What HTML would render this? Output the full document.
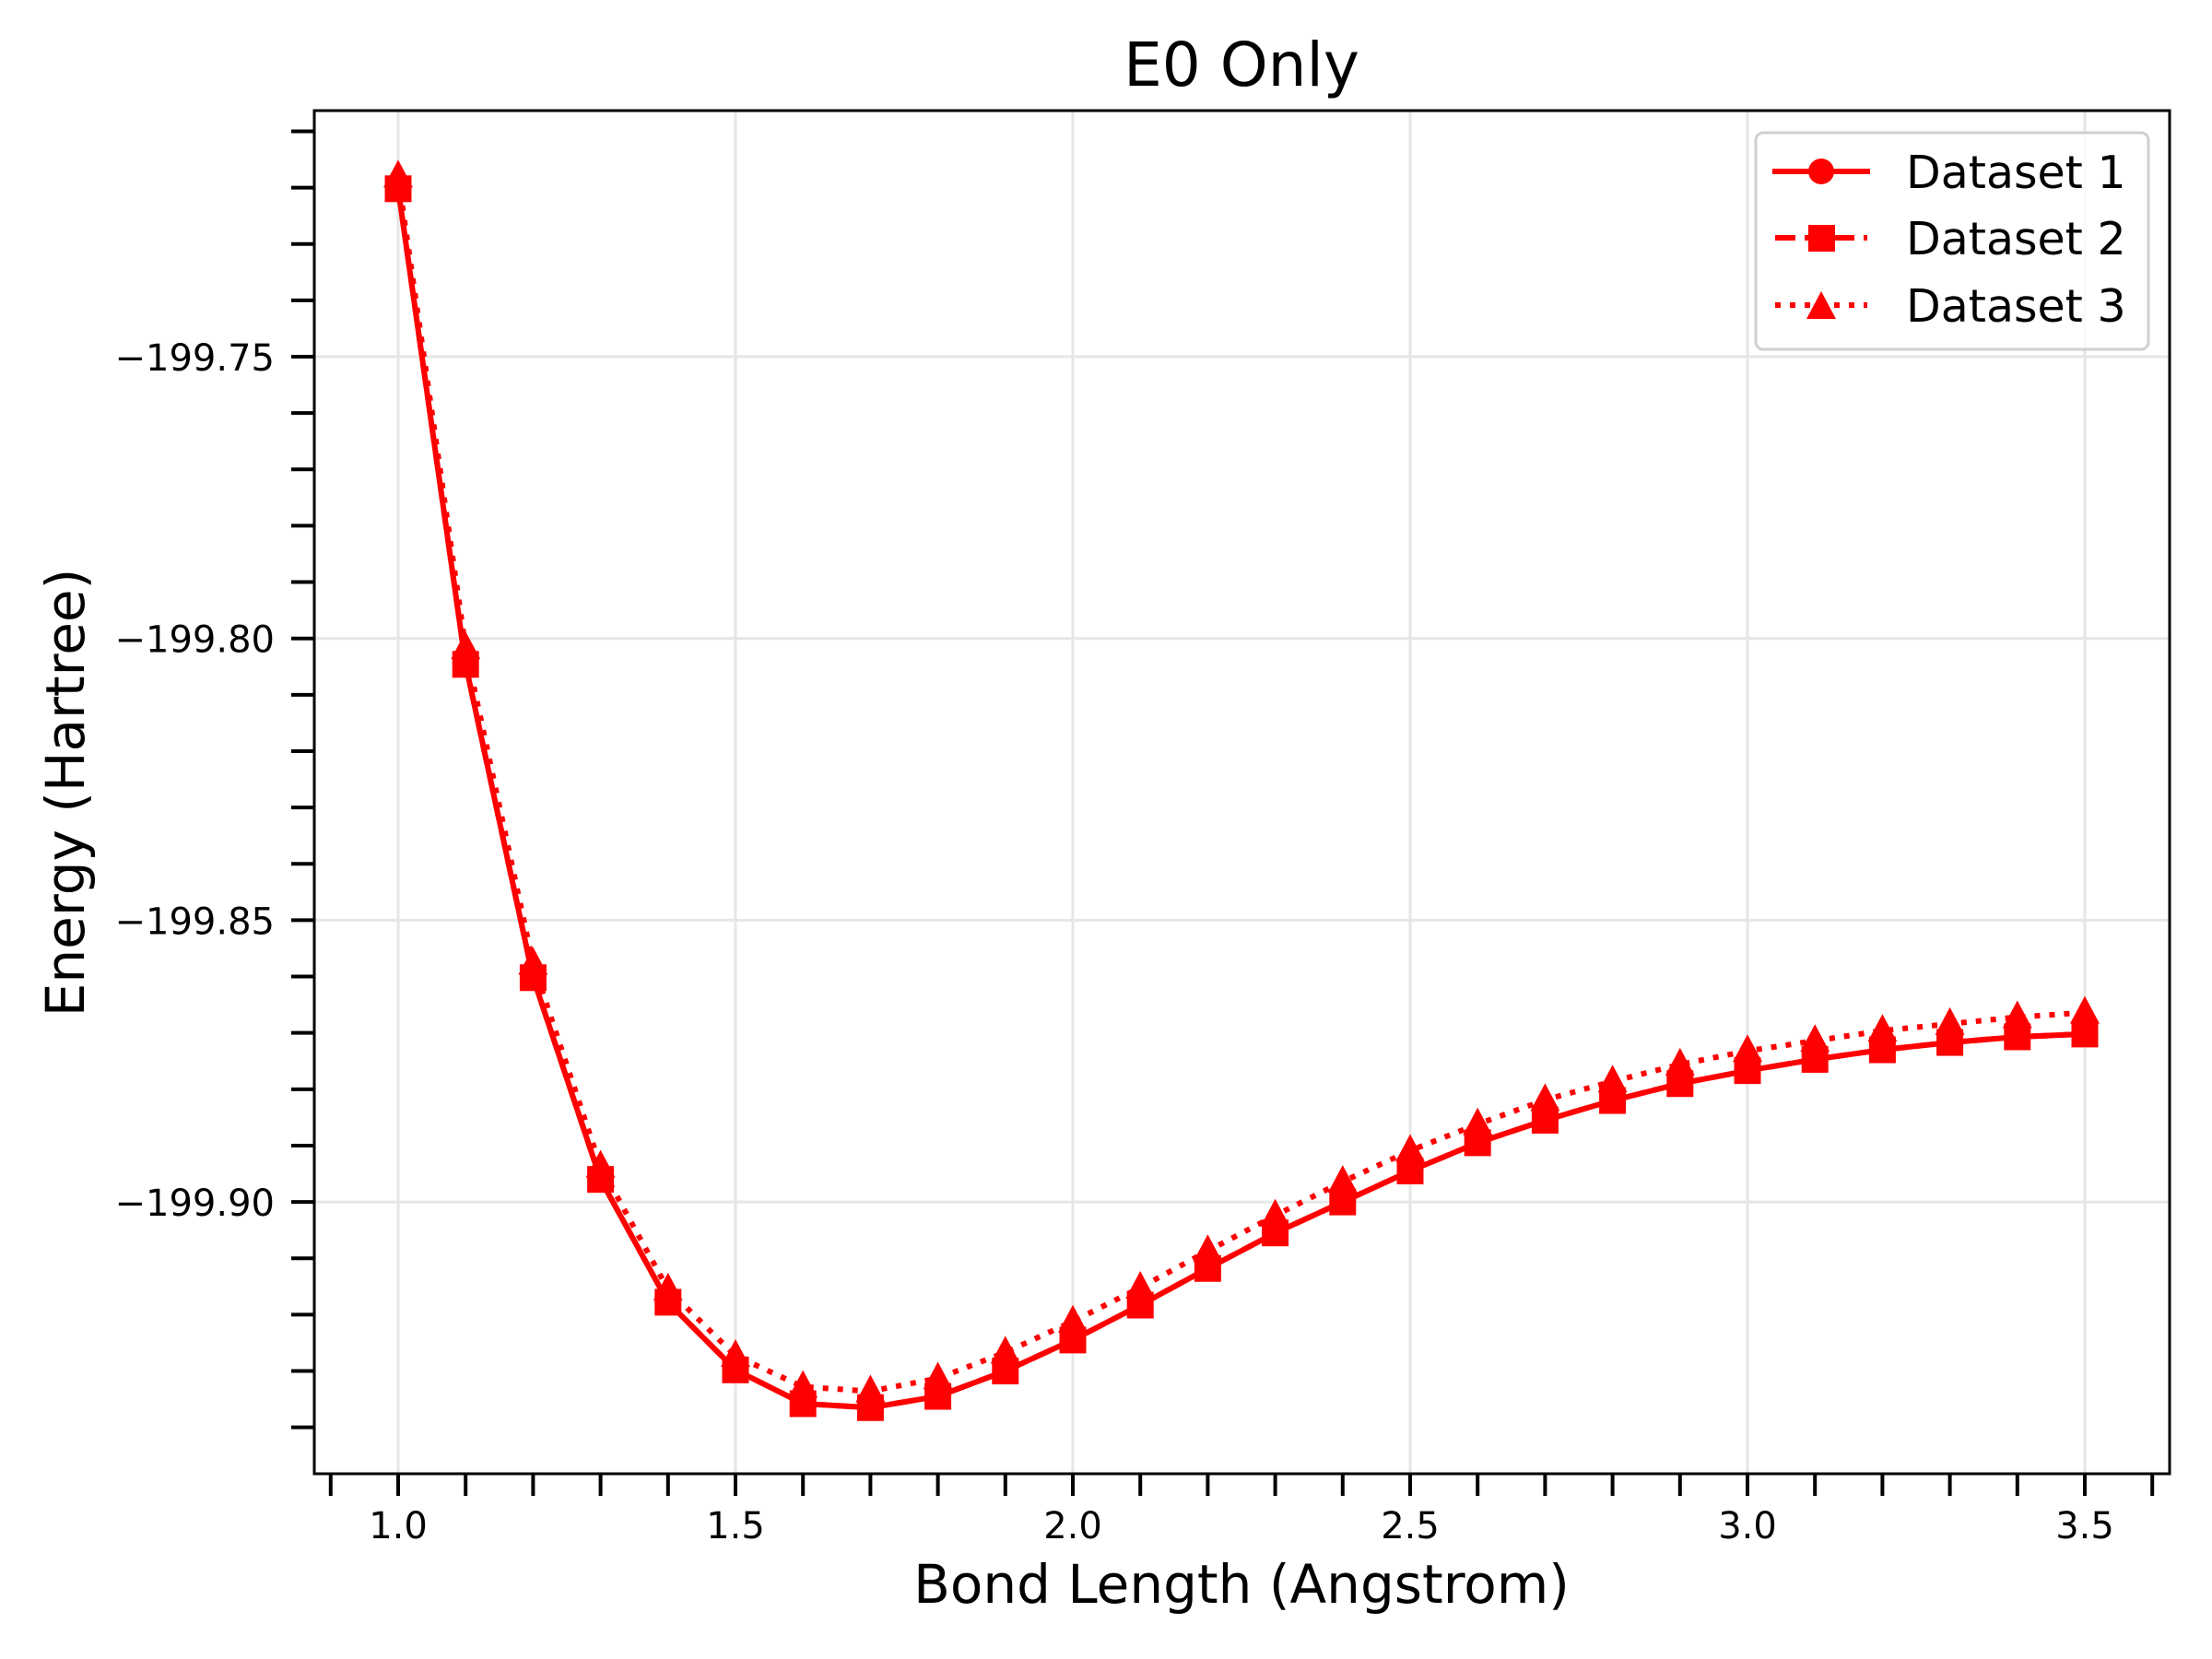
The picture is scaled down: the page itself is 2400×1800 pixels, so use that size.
<!DOCTYPE html>
<html><head><meta charset="utf-8"><style>
html,body{margin:0;padding:0;background:#fff;}
svg{display:block;font-family:"DejaVu Sans","Liberation Sans",sans-serif;}
</style></head><body>
<svg id="chart" width="2400" height="1800" viewBox="0 0 2400 1800" xmlns="http://www.w3.org/2000/svg">
<rect width="2400" height="1800" fill="#fff"/>
<g id="grid"></g>
<g id="series"></g>
<g id="axes"></g>
<text x="1347" y="93" font-size="66" text-anchor="middle">E0 Only</text>
<text x="1347" y="1739" font-size="58" text-anchor="middle">Bond Length (Angstrom)</text>
<text x="0" y="0" font-size="58" text-anchor="middle" transform="translate(91,860) rotate(-90)">Energy (Hartree)</text>
<g>
<rect x="1905" y="144" width="426" height="235" rx="8" fill="#fff" fill-opacity="0.8" stroke="#d0d0d0" stroke-width="3"/>
<g>
<line x1="1923" y1="186" x2="2029" y2="186" stroke="#f00" stroke-width="6"/>
<circle cx="1976" cy="186" r="14" fill="#f00"/>
<text x="2068" y="204" font-size="49">Dataset 1</text></g>
<g>
<line x1="1926" y1="258" x2="2026" y2="258" stroke="#f00" stroke-width="6" stroke-dasharray="22 10"/>
<rect x="1962" y="244" width="29" height="29" fill="#f00"/>
<text x="2068" y="276" font-size="49">Dataset 2</text></g>
<g>
<line x1="1926" y1="331" x2="2026" y2="331" stroke="#f00" stroke-width="6" stroke-dasharray="6 10"/>
<polygon points="1976,316 1992,346 1960,346" fill="#f00"/>
<text x="2068" y="349" font-size="49">Dataset 3</text></g>
</g>
</svg>
<script>
const bondLengths=[1.0,1.1,1.2,1.3,1.4,1.5,1.6,1.7,1.8,1.9,2.0,2.1,2.2,2.3,2.4,2.5,2.6,2.7,2.8,2.9,3.0,3.1,3.2,3.3,3.4,3.5];
const dataset1=[-199.7202,-199.8046,-199.8602,-199.8960,-199.9178,-199.9298,-199.9358,-199.9365,-199.9345,-199.9300,-199.9245,-199.9183,-199.9118,-199.9055,-199.9000,-199.8945,-199.8895,-199.8855,-199.8820,-199.8790,-199.8767,-199.8747,-199.8730,-199.8717,-199.8707,-199.8702];
const dataset2=[-199.7202,-199.8046,-199.8602,-199.8960,-199.9178,-199.9298,-199.9358,-199.9365,-199.9345,-199.9300,-199.9245,-199.9183,-199.9118,-199.9055,-199.9000,-199.8945,-199.8895,-199.8855,-199.8820,-199.8790,-199.8767,-199.8747,-199.8730,-199.8717,-199.8707,-199.8702];
const dataset3=[-199.7180,-199.8017,-199.8577,-199.8937,-199.9155,-199.9273,-199.9328,-199.9336,-199.9313,-199.9267,-199.9212,-199.9152,-199.9087,-199.9024,-199.8964,-199.8909,-199.8862,-199.8819,-199.8786,-199.8756,-199.8732,-199.8714,-199.8696,-199.8684,-199.8672,-199.8664];
const xTickLabels=["1.0","1.5","2.0","2.5","3.0","3.5"];
const yTickLabels=["\u2212199.75","\u2212199.80","\u2212199.85","\u2212199.90"];
const NS="http://www.w3.org/2000/svg";
const L=341,R=2354,T=120,B=1599;
const X0=432,XS=732;
const Y0=387,YS=6114;
function sx(v){return X0+(v-1.0)*XS;}
function sy(v){return Y0-(v-(-199.75))*YS;}
function mk(tag,attrs,parent){const e=document.createElementNS(NS,tag);for(const k in attrs)e.setAttribute(k,attrs[k]);parent.appendChild(e);return e;}
const grid=document.getElementById('grid'),axes=document.getElementById('axes'),ser=document.getElementById('series');
xTickLabels.forEach(t=>{const x=sx(parseFloat(t));const g=mk('line',{x1:x,x2:x,y1:T,y2:B,stroke:'#e6e6e6','stroke-width':3},grid);

});
yTickLabels.forEach(t=>{const y=sy(parseFloat(t.replace('\u2212','-')));const g=mk('line',{x1:L,x2:R,y1:y,y2:y,stroke:'#e6e6e6','stroke-width':3},grid);

});
function drawSeries(data,dash,marker,name){
  const g=mk('g',{},ser);
  
  
  const pts=bondLengths.map((b,i)=>sx(b)+','+sy(data[i])).join(' ');
  const attrs={points:pts,fill:'none',stroke:'#f00','stroke-width':6,'stroke-linejoin':'round'};
  if(dash)attrs['stroke-dasharray']=dash;
  const pl=mk('polyline',attrs,g);
  
  
  bondLengths.forEach((b,i)=>{const x=sx(b),y=sy(data[i]);let m;
    if(marker==='circle')m=mk('circle',{cx:x,cy:y,r:14,fill:'#f00'},g);
    else if(marker==='square')m=mk('rect',{x:x-14.5,y:y-14.5,width:29,height:29,fill:'#f00'},g);
    else m=mk('polygon',{points:`${x},${y-18} ${x+16},${y+12} ${x-16},${y+12}`,fill:'#f00'},g);
    
    });
}
drawSeries(dataset1,null,'circle','dataset-1');
drawSeries(dataset2,'22 10','square','dataset-2');
drawSeries(dataset3,'6 10','triangle','dataset-3');
const fr=mk('rect',{x:L,y:T,width:R-L,height:B-T,fill:'none',stroke:'#000','stroke-width':3},axes);


for(let k=9;k<=36;k++){const x=sx(k/10);const t=mk('line',{x1:x,x2:x,y1:B,y2:B+24,stroke:'#000','stroke-width':4},axes);

}
xTickLabels.forEach(s=>{const t=mk('text',{x:sx(parseFloat(s)),y:1669,'font-size':40,'text-anchor':'middle'},axes);t.textContent=s;

});
for(let k=71;k<=94;k++){const y=sy(-199-k/100);if(y<T-1||y>B+1)continue;const t=mk('line',{x1:L-25,x2:L,y1:y,y2:y,stroke:'#000','stroke-width':4},axes);

}
yTickLabels.forEach(s=>{const t=mk('text',{x:298,y:sy(parseFloat(s.replace('\u2212','-')))+15,'font-size':40,'text-anchor':'end'},axes);t.textContent=s;

});
</script>
</body></html>
